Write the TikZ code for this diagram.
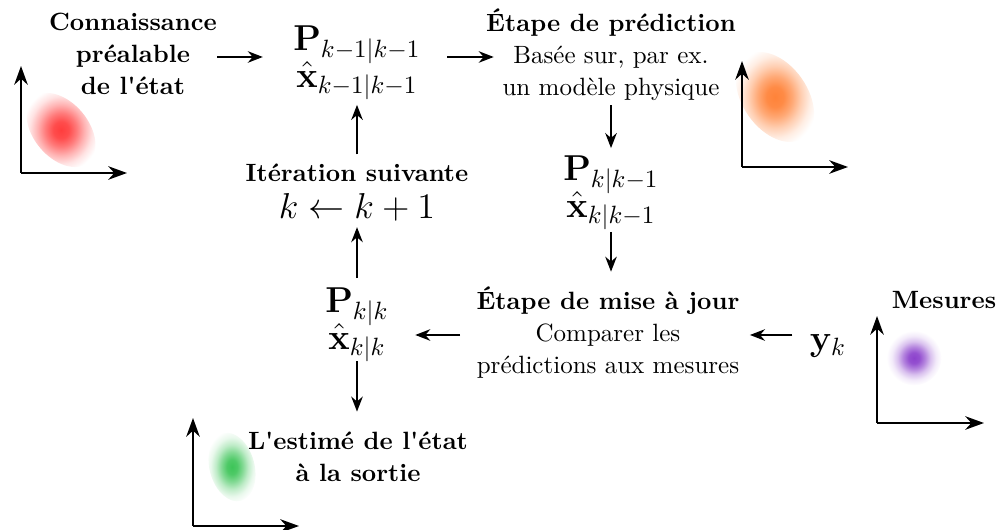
\documentclass[tikz,border=0pt]{standalone}
\usepackage{amsmath}
\usepackage{textcomp}
\usetikzlibrary{arrows.meta}
\newcommand{\mathnfont}{\fontsize{14.4}{14.6}\selectfont\lineskiplimit=-20pt\relax}
\pgfdeclareradialshading{redblob}{\pgfpoint{0bp}{0bp}}{color(0bp)=(red!76); color(5bp)=(red!70); color(10bp)=(red!52); color(15bp)=(red!30); color(20bp)=(red!11); color(24bp)=(red!2); color(25bp)=(white); color(50bp)=(white)}
\definecolor{orblob}{RGB}{255,120,40}
\pgfdeclareradialshading{orangeblob}{\pgfpoint{0bp}{0bp}}{color(0bp)=(orblob!92); color(5bp)=(orblob!86); color(10bp)=(orblob!64); color(15bp)=(orblob!36); color(20bp)=(orblob!13); color(24bp)=(orblob!2); color(25bp)=(white); color(50bp)=(white)}
\definecolor{publob}{RGB}{130,50,200}
\pgfdeclareradialshading{purpleblob}{\pgfpoint{0bp}{0bp}}{color(0bp)=(publob!92); color(5bp)=(publob!85); color(10bp)=(publob!60); color(15bp)=(publob!30); color(20bp)=(publob!10); color(24bp)=(publob!2); color(25bp)=(white); color(50bp)=(white)}
\definecolor{grblob}{RGB}{40,190,70}
\pgfdeclareradialshading{greenblob}{\pgfpoint{0bp}{0bp}}{color(0bp)=(grblob!90); color(5bp)=(grblob!82); color(10bp)=(grblob!58); color(15bp)=(grblob!30); color(20bp)=(grblob!10); color(24bp)=(grblob!2); color(25bp)=(white); color(50bp)=(white)}
\tikzset{
  arr/.style={line width=0.85pt, -{Stealth[length=6pt,width=4.6pt]}},
  axis/.style={line width=1pt, -{Stealth[length=7.5pt,width=5.4pt]}},
  bold/.style={align=center, font=\fontsize{10}{12.8}\selectfont, inner sep=0pt},
  mathn/.style={align=center, font=\mathnfont, inner sep=0pt},
}
\begin{document}
\begin{tikzpicture}[x=0.4pt, y=-0.4pt]
\useasboundingbox (0,0) rectangle (997,530);
% blobs
\shade[shading=redblob, rotate around={-50:(61,130)}] (61,130) ellipse [x radius=17pt, y radius=11pt];
\shade[shading=orangeblob, rotate around={-55:(775,97)}] (775,97) ellipse [x radius=20pt, y radius=13pt];
\shade[shading=purpleblob] (914,358) circle [radius=11pt];
\shade[shading=greenblob, rotate around={-75:(232,467)}] (232,467) ellipse [x radius=14pt, y radius=9pt];
% axes
\coordinate (o1) at (21,173);
\draw[axis] (o1) -- (21,66);
\draw[axis] (o1) -- (127,173);
\coordinate (o2) at (742,167);
\draw[axis] (o2) -- (742,61);
\draw[axis] (o2) -- (848,167);
\coordinate (o3) at (877,423);
\draw[axis] (o3) -- (877,316);
\draw[axis] (o3) -- (984,423);
\coordinate (o4) at (193,526);
\draw[axis] (o4) -- (193,418);
\draw[axis] (o4) -- (299,526);
% nodes
\node[bold] (know) at (133,54) {\bfseries Connaissance\\\bfseries pr\'ealable\\\bfseries de l\textquotesingle\'etat};
\node[mathn] (p1) at (357,63) {$\mathbf{P}_{k-1|k-1}$\\$\hat{\mathbf{x}}_{k-1|k-1}$};
\node[bold] (pred) at (611,55) {\bfseries \'Etape de pr\'ediction\\Bas\'ee sur, par ex.\\un mod\`ele physique};
\node[mathn] (p2) at (611,193) {$\mathbf{P}_{k|k-1}$\\$\hat{\mathbf{x}}_{k|k-1}$};
\node[bold] (upd) at (608,333) {\bfseries \'Etape de mise \`a jour\\Comparer les\\pr\'edictions aux mesures};
\node[mathn] (yk) at (828,346) {$\mathbf{y}_k$};
\node[bold] (mes) at (944,300) {\bfseries Mesures};
\node[mathn] (p3) at (357,325) {$\mathbf{P}_{k|k}$\\$\hat{\mathbf{x}}_{k|k}$};
\node[bold] (iter) at (357,193) {\bfseries It\'eration suivante\\[2pt]{\fontsize{14.4}{14}\selectfont$k \leftarrow k+1$}};
\node[bold] (out) at (358,457) {\bfseries L\textquotesingle estim\'e de l\textquotesingle\'etat\\\bfseries \`a la sortie};
% connectors
\draw[arr, shorten >=12pt] ([yshift=-1.2pt]know.east) -- ([yshift=-1.2pt]know.east -| p1.west);
\draw[arr, shorten <=10.4pt, shorten >=-3.2pt] ([yshift=-1.2pt]know.east -| p1.east) -- ([yshift=-1.2pt]know.east -| pred.west);
\draw[arr, shorten <=1.6pt, shorten >=3pt] (pred.south) -- (p2.north);
\draw[arr, shorten <=0.6pt, shorten >=6pt] (p2.south) -- (upd.north -| p2.south);
\draw[arr, shorten <=6.8pt, shorten >=4pt] ([yshift=-0.8pt]yk.west |- upd) -- ([yshift=-0.8pt]upd.east);
\draw[arr, shorten <=6.4pt, shorten >=10.4pt] ([yshift=-0.8pt]upd.west) -- ([yshift=-0.8pt]p3.east |- upd);
\draw[arr, shorten <=-0.4pt, shorten >=8pt] (p3.south) -- (out.north -| p3);
\draw[arr, shorten <=3.8pt, shorten >=2pt] (p3.north) -- (iter.south);
\draw[arr, shorten <=3.8pt, shorten >=1.8pt] (iter.north) -- (p1.south);
\end{tikzpicture}
\end{document}
